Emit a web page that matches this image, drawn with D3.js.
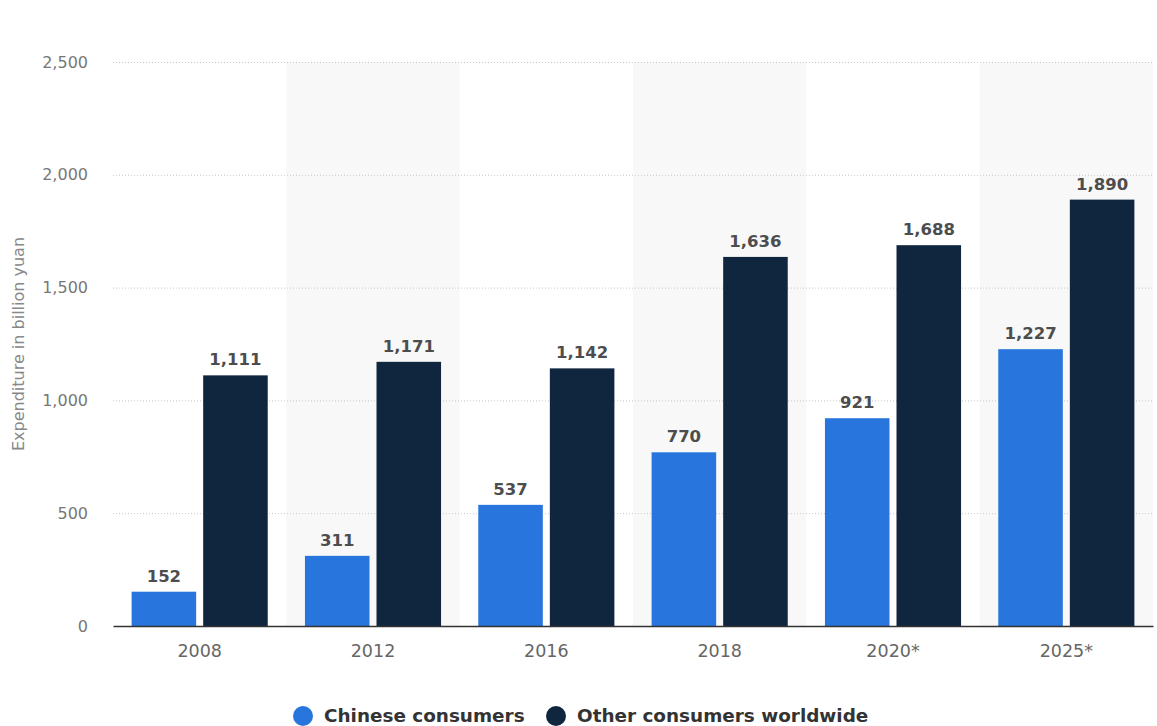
<!DOCTYPE html>
<html>
<head>
<meta charset="utf-8">
<script src="https://cdn.jsdelivr.net/npm/d3@7"></script>
<style>
	body { margin: 0; background: #fff; }
	svg, svg text { font-family: "DejaVu Sans", Verdana, sans-serif; }
</style>
</head>
<body>
<svg id="chart" width="1157" height="726"></svg>
<script>
var years = ["2008", "2012", "2016", "2018", "2020*", "2025*"];
var chineseConsumers = [152, 311, 537, 770, 921, 1227];
var otherConsumers = [1111, 1171, 1142, 1636, 1688, 1890];
var seriesNames = ["Chinese consumers", "Other consumers worldwide"];
var seriesColors = ["#2876dd", "#10263f"];
var yTicks = [0, 500, 1000, 1500, 2000, 2500];

function drawChart(){
	var svg = d3.select("#chart");
	var left = 113, right = 1153, top = 62, bottom = 626;

	var x = d3.scaleBand().domain(years).range([left, right]);
	var y = d3.scaleLinear().domain([0, 2500]).range([bottom, top]);
	var inner = d3.scaleBand().domain([0, 1]).range([0, x.bandwidth()])
					.paddingInner(0.098).paddingOuter(0.26);

	// alternating band shading
	svg.append("g").selectAll("rect")
		.data(years.filter(function(d, i){ return i % 2 == 1; }))
		.enter().append("rect")
		.attr("x", function(d){ return x(d); })
		.attr("y", top)
		.attr("width", x.bandwidth())
		.attr("height", bottom - top)
		.style("fill", "#f8f8f8");

	// grid
	var yAxis = d3.axisLeft(y).tickValues(yTicks).tickSize(-(right - left))
					.tickFormat(d3.format(","));
	var gy = svg.append("g").attr("transform", "translate(" + left + ",0)").call(yAxis)
				.attr("font-family", null);
	gy.select(".domain").remove();
	gy.selectAll(".tick line")
		.attr("stroke", "#c8c8c8")
		.attr("stroke-dasharray", "1,2");
	gy.selectAll(".tick text")
		.attr("x", -25)
		.style("font-size", "16px")
		.style("fill", "#777");
	gy.selectAll(".tick").filter(function(d){ return d == 0; }).select("line").remove();

	svg.append("text")
		.attr("transform", "translate(24," + ((top + bottom) / 2) + ") rotate(-90)")
		.attr("text-anchor", "middle")
		.style("font-size", "16px")
		.style("fill", "#888")
		.text("Expenditure in billion yuan");

	// bars
	var seriesData = [chineseConsumers, otherConsumers];
	seriesData.forEach(function(values, s){
		var g = svg.append("g");
		g.selectAll("rect").data(values).enter().append("rect")
			.attr("x", function(d, i){ return x(years[i]) + inner(s); })
			.attr("y", function(d){ return y(d); })
			.attr("width", inner.bandwidth())
			.attr("height", function(d){ return bottom - y(d); })
			.style("fill", seriesColors[s]);
		g.selectAll("text").data(values).enter().append("text")
			.attr("x", function(d, i){ return x(years[i]) + inner(s) + inner.bandwidth() / 2; })
			.attr("y", function(d){ return y(d) - 10; })
			.attr("text-anchor", "middle")
			.style("font-size", "16.5px")
			.style("font-weight", "bold")
			.style("fill", "#4d4d4d")
			.text(function(d){ return d3.format(",")(d); });
	});

	// x axis
	var xAxis = d3.axisBottom(x).tickSize(0).tickPadding(19);
	var gx = svg.append("g").attr("transform", "translate(0," + bottom + ")").call(xAxis)
				.attr("font-family", null);
	gx.select(".domain").attr("stroke", "#333").attr("stroke-width", 1.5);
	gx.selectAll(".tick text")
		.style("font-size", "17.5px")
		.style("fill", "#666");

	// legend
	var legendX = [303, 556];
	seriesNames.forEach(function(name, s){
		svg.append("circle")
			.attr("cx", legendX[s])
			.attr("cy", 716)
			.attr("r", 10)
			.style("fill", seriesColors[s]);
		svg.append("text")
			.attr("x", legendX[s] + 21)
			.attr("y", 722)
			.style("font-size", "18.4px")
			.style("font-weight", "bold")
			.style("fill", "#333")
			.text(name);
	});
}
drawChart();
</script>
</body>
</html>
